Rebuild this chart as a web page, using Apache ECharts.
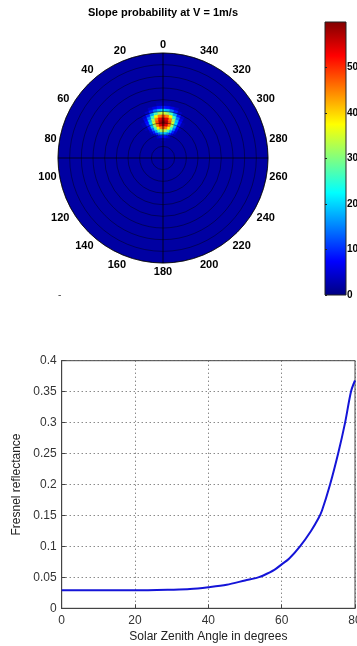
<!DOCTYPE html>
<html><head><meta charset="utf-8">
<script src="https://cdn.jsdelivr.net/npm/echarts@6/dist/echarts.min.js"></script>
<style>html,body{margin:0;padding:0;background:#fff}#c{width:357px;height:646px}</style>
</head><body><div id="c"></div>
<script>
// ---- data: polar slope probability ----
const titleText = 'Slope probability at V = 1m/s';
const colorMin = 0;
const colorMax = 60;
const backgroundValue = 2;
// spot cell centers (radius units 0..90, angle in degrees, 0 at top, counter-clockwise)
const spotRadii = [16.25, 18.75, 21.25, 23.75, 26.25, 28.75, 31.25, 33.75, 36.25, 38.75, 41.25, 43.75, 46.25];
const spotAngles = [-30, -25, -20, -15, -10, -5, 0, 5, 10, 15, 20, 25, 30];
const spotValues = [
  [2, 2, 2, 2, 2, 3, 3, 3, 2, 2, 2, 2, 2],
  [2, 2, 2, 4, 6, 8, 9, 8, 6, 4, 2, 2, 2],
  [2, 2, 4, 9, 14, 18, 20, 18, 14, 9, 4, 2, 2],
  [2, 4, 9, 17, 26, 32, 35, 32, 26, 17, 9, 4, 2],
  [2, 6, 14, 26, 38, 45, 48, 45, 38, 26, 14, 6, 2],
  [3, 8, 18, 32, 45, 54, 57, 54, 45, 32, 18, 8, 3],
  [3, 9, 20, 35, 48, 57, 60, 57, 48, 35, 20, 9, 3],
  [3, 8, 18, 32, 45, 54, 57, 54, 45, 32, 18, 8, 3],
  [2, 6, 14, 26, 38, 45, 48, 45, 38, 26, 14, 6, 2],
  [2, 4, 9, 17, 26, 32, 35, 32, 26, 17, 9, 4, 2],
  [2, 2, 4, 9, 14, 18, 20, 18, 14, 9, 4, 2, 2],
  [2, 2, 2, 4, 6, 8, 9, 8, 6, 4, 2, 2, 2],
  [2, 2, 2, 2, 2, 3, 3, 3, 2, 2, 2, 2, 2]
];
// ---- data: Fresnel reflectance ----
const zenithAngles = [0, 10, 20, 30, 35, 40, 45, 50, 53.6, 55, 58, 60, 62, 65, 68, 70, 71, 73.2, 75.4, 77.3, 78.9, 80];
const fresnel = [0.029, 0.029, 0.029, 0.030, 0.031, 0.034, 0.038, 0.045, 0.050, 0.053, 0.062, 0.071, 0.080, 0.100, 0.125, 0.145, 0.158, 0.200, 0.250, 0.300, 0.350, 0.368];

const DR = 2.5, DA = 5;
const jet = ['#000080', '#0000ff', '#0080ff', '#00ffff', '#80ff80', '#ffff00', '#ff8000', '#ff0000', '#800000'];

const spotData = [];
spotRadii.forEach((r, i) => spotAngles.forEach((a, j) => spotData.push([r, a, spotValues[i][j]])));

function renderCell(params, api) {
  const r = api.value(0), a = api.value(1);
  const cs = params.coordSys;
  const cx = cs.cx, cy = cs.cy;
  const pA = api.coord([r - DR / 2, a - DA / 2]);
  const pB = api.coord([r + DR / 2, a + DA / 2]);
  const r0 = Math.hypot(pA[0] - cx, pA[1] - cy), r1 = Math.hypot(pB[0] - cx, pB[1] - cy);
  let s = Math.atan2(pA[1] - cy, pA[0] - cx), e = Math.atan2(pB[1] - cy, pB[0] - cx);
  if (s > e) { const t = s; s = e; e = t; }
  if (e - s > Math.PI) { const t = s + 2 * Math.PI; s = e; e = t; }
  const color = api.visual('color');
  return { type: 'sector', shape: { cx, cy, r0, r: r1, startAngle: s, endAngle: e, clockwise: true },
    style: { fill: color, stroke: color, lineWidth: 0.6 } };
}
function renderBackground(params, api) {
  const cs = params.coordSys;
  return { type: 'circle', shape: { cx: cs.cx, cy: cs.cy, r: cs.r }, style: { fill: api.visual('color') } };
}
function renderColorbar(params, api) {
  const p0 = api.coord([0, api.value(0)]);
  const p1 = api.coord([1, api.value(1)]);
  return { type: 'rect', shape: { x: p0[0], y: p1[1], width: p1[0] - p0[0], height: p0[1] - p1[1] },
    style: { fill: new echarts.graphic.LinearGradient(0, 1, 0, 0, jet.map((c, i) => ({ offset: i / (jet.length - 1), color: c }))),
      stroke: '#222', lineWidth: 1 } };
}

const chart = echarts.init(document.getElementById('c'), null, { renderer: 'canvas' });
const boldFont = { fontFamily: 'Liberation Sans, Arial, sans-serif', fontWeight: 'bold', fontSize: 11, color: '#000' };
const plainFont = { fontFamily: 'Liberation Sans, Arial, sans-serif', fontSize: 12, color: '#333' };
chart.setOption({
  backgroundColor: '#fff',
  animation: false,
  graphic: [
    { type: 'text', x: 163, y: 7, style: { text: titleText, textAlign: 'center', font: 'bold 11px "Liberation Sans", Arial, sans-serif', fill: '#000' } },
    { type: 'text', x: 58, y: 290, style: { text: '-', font: '10px "Liberation Sans", Arial, sans-serif', fill: '#444' } }
  ],
  polar: [
    { center: [163, 158], radius: 105 },
    { center: [163, 158], radius: 105 }
  ],
  angleAxis: [
    { polarIndex: 0, type: 'value', min: 0, max: 360, interval: 20, startAngle: 90, clockwise: false, z: 5,
      axisLine: { show: true, lineStyle: { color: '#000', width: 1, opacity: 0.7 } }, axisTick: { show: false },
      splitLine: { show: false },
      axisLabel: Object.assign({ margin: 3, formatter: v => (v >= 360 ? '' : String(v)) }, boldFont) },
    { polarIndex: 1, type: 'value', min: 0, max: 360, interval: 90, startAngle: 90, clockwise: false, z: 5,
      axisLine: { show: false }, axisTick: { show: false }, axisLabel: { show: false },
      splitLine: { show: true, lineStyle: { color: '#000', width: 1, opacity: 0.75 } } }
  ],
  radiusAxis: [
    { polarIndex: 0, type: 'value', min: 0, max: 90, interval: 10, z: 5,
      axisLine: { show: false }, axisTick: { show: false }, axisLabel: { show: false },
      splitLine: { show: true, lineStyle: { color: '#000', width: 1, opacity: 0.42 } } },
    { polarIndex: 1, type: 'value', min: 0, max: 90, show: false }
  ],
  visualMap: {
    type: 'continuous', show: false, min: colorMin, max: colorMax, dimension: 2, seriesIndex: [0, 1],
    inRange: { color: jet }
  },
  grid: [
    { left: 61.7, top: 360.7, right: 2, bottom: 37.7, show: true, borderColor: '#444', borderWidth: 1, outerBoundsMode: 'none', containLabel: false },
    { left: 325, top: 22, width: 21, height: 273, show: false, outerBoundsMode: 'none', containLabel: false }
  ],
  xAxis: [
    { gridIndex: 0, type: 'value', min: 0, max: 80, interval: 20,
      name: 'Solar Zenith Angle in degrees', nameLocation: 'middle', nameGap: 22,
      nameTextStyle: Object.assign({}, plainFont, { color: '#222' }),
      axisLine: { lineStyle: { color: '#444' } }, axisTick: { inside: true, length: 4, lineStyle: { color: '#444' } },
      axisLabel: Object.assign({ margin: 6 }, plainFont),
      splitLine: { show: true, lineStyle: { color: '#555', type: [1, 3] } } },
    { gridIndex: 1, type: 'value', show: false, min: 0, max: 1 }
  ],
  yAxis: [
    { gridIndex: 0, type: 'value', min: 0, max: 0.4, interval: 0.05,
      name: 'Fresnel reflectance', nameLocation: 'middle', nameGap: 38,
      nameTextStyle: Object.assign({}, plainFont, { color: '#222' }),
      axisLine: { lineStyle: { color: '#444' } }, axisTick: { inside: true, length: 4, lineStyle: { color: '#444' } },
      axisLabel: Object.assign({ margin: 5 }, plainFont),
      splitLine: { show: true, lineStyle: { color: '#555', type: [1, 3] } } },
    { gridIndex: 1, type: 'value', min: colorMin, max: colorMax, interval: 10, position: 'right', z: 10,
      axisLine: { show: false },
      axisTick: { show: true, inside: false, length: 2, lineStyle: { color: '#222' } },
      axisLabel: Object.assign({ margin: 1, showMaxLabel: false }, boldFont, { fontSize: 10 }),
      splitLine: { show: false } }
  ],
  series: [
    { type: 'custom', coordinateSystem: 'polar', polarIndex: 0, renderItem: renderBackground, data: [[90, 0, backgroundValue]], z: 1, silent: true },
    { type: 'custom', coordinateSystem: 'polar', polarIndex: 0, renderItem: renderCell, data: spotData, z: 2, silent: true },
    { type: 'line', xAxisIndex: 0, yAxisIndex: 0, data: zenithAngles.map((x, i) => [x, fresnel[i]]),
      smooth: 0.3, showSymbol: false, lineStyle: { color: '#1414d8', width: 2 }, clip: false },
    { type: 'custom', coordinateSystem: 'cartesian2d', xAxisIndex: 1, yAxisIndex: 1, renderItem: renderColorbar,
      data: [[colorMin, colorMax]], z: 2, silent: true }
  ]
});
</script></body></html>
